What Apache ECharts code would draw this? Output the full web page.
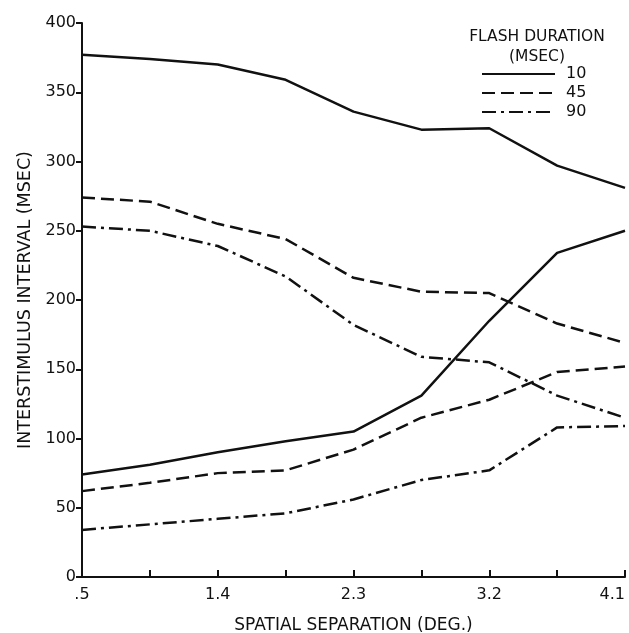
<!DOCTYPE html>
<html><head><meta charset="utf-8">
<script src="https://cdn.jsdelivr.net/npm/echarts@6/dist/echarts.min.js"></script>
<style>html,body{margin:0;padding:0;background:#fff}#c{width:629px;height:633px}</style>
</head><body><div id="c"></div>
<script>
var separations = ['.5', '.95', '1.4', '1.85', '2.3', '2.75', '3.2', '3.65', '4.1'];
var tickLabels = ['.5', '', '1.4', '', '2.3', '', '3.2', '', '4.1'];
var yTicks = [0, 50, 100, 150, 200, 250, 300, 350, 400];
var durations = ['10', '45', '90'];
var upper10 = [377, 374, 370, 359, 336, 323, 324, 297, 281];
var upper45 = [274, 271, 255, 244, 216, 206, 205, 183, 169];
var upper90 = [253, 250, 239, 217, 182, 159, 155, 131, 115];
var lower10 = [74, 81, 90, 98, 105, 131, 185, 234, 250];
var lower45 = [62, 68, 75, 77, 92, 115, 128, 148, 152];
var lower90 = [34, 38, 42, 46, 56, 70, 77, 108, 109];

var styles = {
  '10': {type: 'solid'},
  '45': {type: [13, 6]},
  '90': {type: [14, 5, 3, 5]}
};
function mk(name, data) {
  return {
    type: 'line', name: name, data: data, symbol: 'none', smooth: false,
    lineStyle: {color: '#111', width: 2.5, type: styles[name].type},
    itemStyle: {color: '#111'}
  };
}
var font = 'DejaVu Sans';
var chart = echarts.init(document.getElementById('c'));
chart.setOption({
  animation: false,
  backgroundColor: '#fff',
  textStyle: {fontFamily: font, color: '#111'},
  title: {
    text: 'FLASH DURATION\n(MSEC)', top: 22, textAlign: 'center',
    left: 532,
    textStyle: {fontFamily: font, fontSize: 15.5, fontWeight: 'normal', color: '#111', lineHeight: 20}
  },
  legend: {
    data: durations, orient: 'vertical', left: 476, top: 61,
    itemWidth: 73, itemHeight: 10, itemGap: 3,
    itemStyle: {opacity: 0},
    textStyle: {fontFamily: font, fontSize: 16, color: '#111', padding: [0, 0, 0, 6]}
  },
  grid: {left: 82, right: 4, top: 23, bottom: 56, containLabel: false, outerBoundsMode: 'none'},
  xAxis: {
    type: 'category', data: separations, boundaryGap: false,
    name: 'SPATIAL SEPARATION (DEG.)', nameLocation: 'middle', nameGap: 40,
    nameTextStyle: {fontFamily: font, fontSize: 17, color: '#111'},
    axisLine: {lineStyle: {color: '#111', width: 2}},
    axisTick: {inside: true, length: 7, interval: 0, lineStyle: {color: '#111', width: 2}},
    axisLabel: {interval: 0, fontSize: 16, color: '#111', margin: 10, hideOverlap: false,
      alignMaxLabel: 'right',
      formatter: function (v, i) { return tickLabels[i]; }},
    splitLine: {show: false}
  },
  yAxis: {
    type: 'value', min: yTicks[0], max: yTicks[yTicks.length - 1], interval: 50,
    name: 'INTERSTIMULUS INTERVAL (MSEC)', nameLocation: 'middle', nameGap: 47, nameRotate: 90,
    nameTextStyle: {fontFamily: font, fontSize: 17.5, color: '#111'},
    axisLine: {show: true, lineStyle: {color: '#111', width: 2}},
    axisTick: {show: true, length: 6, lineStyle: {color: '#111', width: 2}},
    axisLabel: {fontSize: 16, color: '#111', margin: 6},
    splitLine: {show: false}
  },
  series: [
    mk('10', upper10), mk('45', upper45), mk('90', upper90),
    mk('10', lower10), mk('45', lower45), mk('90', lower90)
  ]
});
</script></body></html>
